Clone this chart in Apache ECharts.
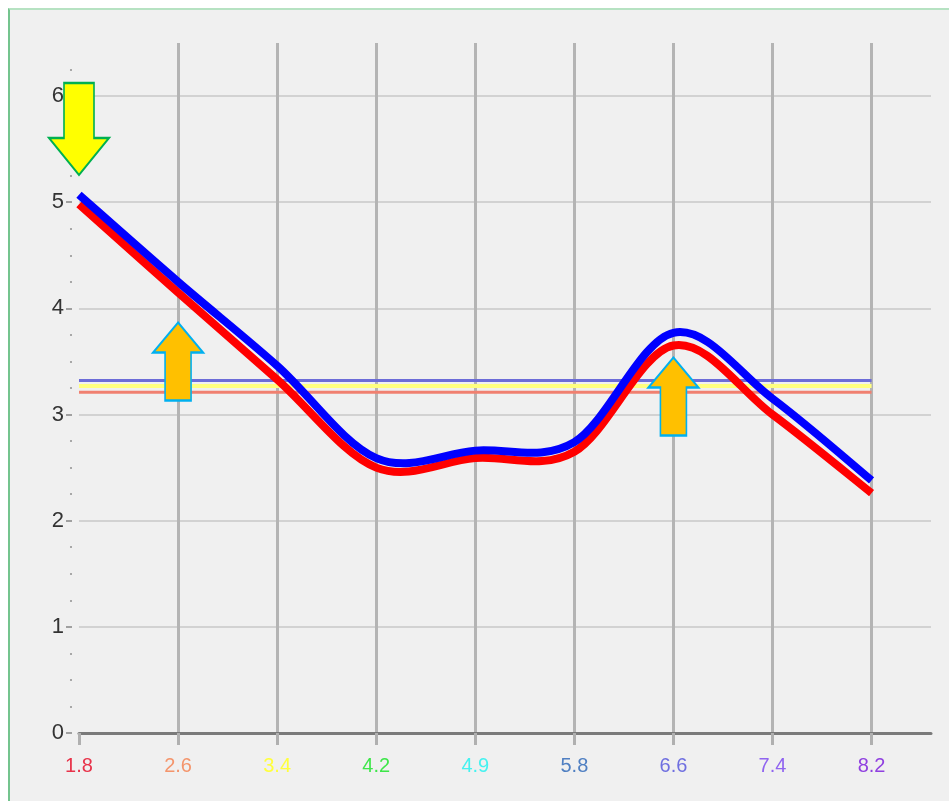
<!DOCTYPE html>
<html>
<head>
<meta charset="utf-8">
<script src="https://cdn.jsdelivr.net/npm/echarts@6/dist/echarts.min.js"></script>
<style>
  html, body { margin: 0; padding: 0; background: #fff; }
  #frame {
    position: absolute; left: 8px; top: 8px; width: 941px; height: 793px;
    background: #f0f0f0;
    border-left: 2px solid #74c48e; border-top: 2px solid #b6e2c2;
    box-sizing: border-box;
  }
  #main { position: absolute; left: 0; top: 0; width: 949px; height: 801px; }
</style>
</head>
<body>
<div id="frame"></div>
<div id="main"></div>
<script>
// x categories and their label colours
const categories = ['1.8', '2.6', '3.4', '4.2', '4.9', '5.8', '6.6', '7.4', '8.2'];
const labelColors = ['#e8334a', '#f4956c', '#ffff3c', '#3ee64a', '#45f2f0', '#4f7fc2', '#6f6fe0', '#9064f0', '#9040e0'];

// series values
const blueValues = [5.07, 4.25, 3.46, 2.59, 2.66, 2.74, 3.77, 3.15, 2.38];
const redValues  = [4.98, 4.15, 3.33, 2.50, 2.59, 2.65, 3.65, 3.00, 2.26];

// horizontal mean lines
const blueMean = 3.32;
const yellowMean = 3.27;
const redMean = 3.21;

// y ticks
const yTicks = [0, 1, 2, 3, 4, 5, 6];

// arrow markers: category index, value at arrow centre, direction
const arrows = [
    { idx: 0, value: 5.69, dir: 'down' },
    { idx: 1, value: 3.50, dir: 'up' },
    { idx: 6, value: 3.17, dir: 'up' }
];

const downArrow = 'path://M15 0 L45 0 L45 55 L60 55 L30 92 L0 55 L15 55 Z';
const upArrow = 'path://M25 0 L50 30 L38 30 L38 78 L12 78 L12 30 L0 30 Z';

const xIdx = categories.map((c, i) => i);
const pairs = vals => vals.map((v, i) => [i, v]);
const flat = v => categories.map((c, i) => [i, v]);

// catmull-rom curve through the points, drawn in pixel space from the axes
function splineSeries(name, values, color, z) {
    return {
        name: name,
        type: 'custom',
        data: pairs(values),
        encode: { x: 0, y: 1 },
        z: z,
        renderItem: function (params, api) {
            if (params.dataIndex !== 0) return null;
            const p = values.map((v, i) => api.coord([i, v]));
            const n = p.length;
            let d = 'M' + p[0][0] + ' ' + p[0][1];
            for (let i = 0; i < n - 1; i++) {
                const p0 = p[Math.max(i - 1, 0)], p1 = p[i], p2 = p[i + 1], p3 = p[Math.min(i + 2, n - 1)];
                const c1x = p1[0] + (p2[0] - p0[0]) / 6, c1y = p1[1] + (p2[1] - p0[1]) / 6;
                const c2x = p2[0] - (p3[0] - p1[0]) / 6, c2y = p2[1] - (p3[1] - p1[1]) / 6;
                d += ' C' + c1x + ' ' + c1y + ' ' + c2x + ' ' + c2y + ' ' + p2[0] + ' ' + p2[1];
            }
            return {
                type: 'path',
                shape: { pathData: d },
                style: { fill: 'none', stroke: color, lineWidth: 8, lineJoin: 'round' }
            };
        }
    };
}

const chart = echarts.init(document.getElementById('main'));

const option = {
    backgroundColor: 'transparent',
    animation: false,
    grid: { left: 79, right: 18, top: 43, bottom: 68, containLabel: false },
    xAxis: {
        type: 'value',
        min: 0,
        max: 8.6,
        interval: 1,
        axisLine: { show: true, lineStyle: { color: '#7a7a7a', width: 3 } },
        axisTick: {
            show: true, length: 12, customValues: xIdx,
            lineStyle: { color: '#b0b0b0', width: 3 }
        },
        axisLabel: {
            customValues: xIdx,
            margin: 23,
            fontSize: 20,
            fontFamily: 'Liberation Sans',
            formatter: v => categories[v] || '',
            color: (v) => labelColors[Math.round(v)] || '#333'
        },
        splitLine: {
            show: true, showMinLine: false,
            lineStyle: { color: '#b4b4b4', width: 3 }
        }
    },
    yAxis: {
        type: 'value',
        min: 0,
        max: 6.5,
        interval: 1,
        axisLine: { show: false },
        // ticks sit a little away from the axis: dash pattern leaves the gap
        axisTick: {
            show: true, length: 13, customValues: yTicks,
            lineStyle: { color: '#a0a0a0', width: 2, type: [0.01, 7, 6, 20] }
        },
        minorTick: {
            show: true, splitNumber: 4, length: 10,
            lineStyle: { color: '#a8a8a8', width: 2, type: [0.01, 7, 2, 20] }
        },
        axisLabel: {
            customValues: yTicks,
            margin: 15,
            fontSize: 22,
            fontFamily: 'Liberation Sans',
            color: '#333'
        },
        splitLine: {
            show: true,
            lineStyle: { color: '#d2d2d2', width: 2 }
        }
    },
    series: [
        {
            name: 'blueMean', type: 'line', data: flat(blueMean), symbol: 'none',
            lineStyle: { color: '#6c6cd8', width: 3 }, z: 2
        },
        {
            name: 'yellowMean', type: 'line', data: flat(yellowMean), symbol: 'none',
            lineStyle: { color: '#ffff80', width: 4 }, z: 2
        },
        {
            name: 'redMean', type: 'line', data: flat(redMean), symbol: 'none',
            lineStyle: { color: '#f08070', width: 3 }, z: 2
        },
        splineSeries('red', redValues, '#ff0000', 3),
        splineSeries('blue', blueValues, '#0000ff', 4),
        {
            name: 'arrows', type: 'scatter', data: [], z: 6,
            markPoint: {
                silent: true,
                label: { show: false },
                data: arrows.map(a => ({
                    coord: [a.idx, a.value],
                    symbol: a.dir === 'down' ? downArrow : upArrow,
                    symbolSize: a.dir === 'down' ? [60, 92] : [50, 78],
                    symbolKeepAspect: false,
                    itemStyle: a.dir === 'down'
                        ? { color: '#ffff00', borderColor: '#00b050', borderWidth: 2 }
                        : { color: '#ffc000', borderColor: '#00b0f0', borderWidth: 2 }
                }))
            }
        }
    ]
};

chart.setOption(option);
</script>
</body>
</html>
